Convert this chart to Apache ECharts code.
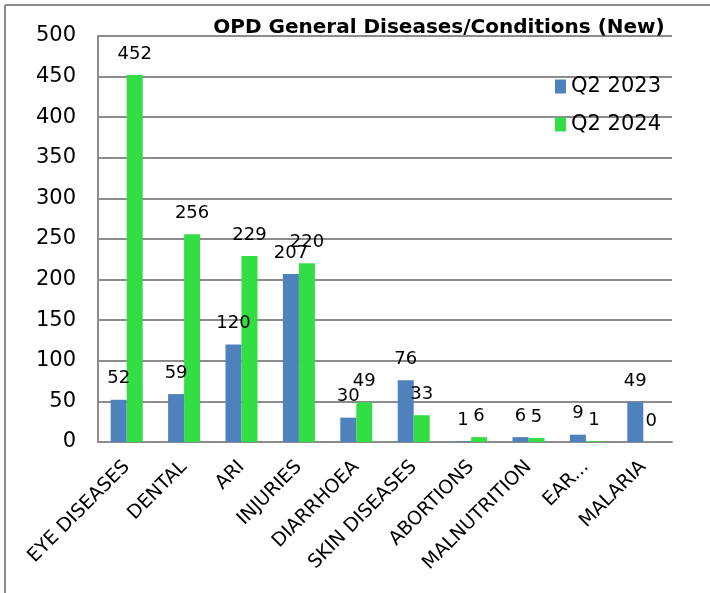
<!DOCTYPE html>
<html><head><meta charset="utf-8">
<script src="https://cdn.jsdelivr.net/npm/echarts@6/dist/echarts.min.js"></script>
<style>html,body{margin:0;padding:0;background:#fff}#c{width:710px;height:593px}</style>
</head><body><div id="c"></div>
<script>
const categories = ["EYE DISEASES","DENTAL","ARI","INJURIES","DIARRHOEA","SKIN DISEASES","ABORTIONS","MALNUTRITION","EAR...","MALARIA"];
const q2_2023 = [52,59,120,207,30,76,1,6,9,49];
const q2_2024 = [452,256,229,220,49,33,6,5,1,0];
const seriesNames = ["Q2 2023","Q2 2024"];
const yTicks = {min:0,max:500,interval:50};

const FONT = "'DejaVu Sans', sans-serif";
const chart = echarts.init(document.getElementById('c'), null, {renderer:'canvas'});
const lbl = {show:true, position:'top', distance:12, color:'#000', fontSize:18, fontFamily:FONT};
chart.setOption({
  animation:false,
  backgroundColor:'#fff',
  graphic:[
    {type:'line', shape:{x1:5,y1:5,x2:710,y2:5}, style:{stroke:'#8c8c8c',lineWidth:2}},
    {type:'line', shape:{x1:5,y1:5,x2:5,y2:593}, style:{stroke:'#8c8c8c',lineWidth:2}}
  ],
  title:{text:'OPD General Diseases/Conditions (New)', left:434, textAlign:'center', top:13,
    textStyle:{fontSize:20, fontWeight:'bold', color:'#000', fontFamily:FONT}},
  legend:{orient:'vertical', left:550, top:71, itemWidth:11, itemHeight:14, itemGap:17,
    icon:'rect', textStyle:{fontSize:21, color:'#000', fontFamily:FONT}, data:seriesNames},
  grid:{left:98, right:38, top:36, bottom:151, containLabel:false},
  xAxis:{type:'category', data:categories,
    axisLine:{lineStyle:{color:'#8c8c8c', width:2}}, axisTick:{show:false},
    axisLabel:{rotate:45, interval:0, fontSize:19, color:'#000', fontFamily:FONT, margin:22}},
  yAxis:{type:'value', min:yTicks.min, max:yTicks.max, interval:yTicks.interval,
    axisLine:{show:true, lineStyle:{color:'#8c8c8c', width:2}}, axisTick:{show:false},
    splitLine:{lineStyle:{color:'#8c8c8c', width:2}},
    axisLabel:{fontSize:21, color:'#000', fontFamily:FONT, margin:22, padding:[8,0,0,0]}},
  series:[
    {name:seriesNames[0], type:'bar', data:q2_2023, barWidth:16, barGap:'0%', itemStyle:{color:'#4f81bd'}, label:lbl},
    {name:seriesNames[1], type:'bar', data:q2_2024, barWidth:16, barGap:'0%', itemStyle:{color:'#33dd44'}, label:lbl}
  ]
});
</script></body></html>
